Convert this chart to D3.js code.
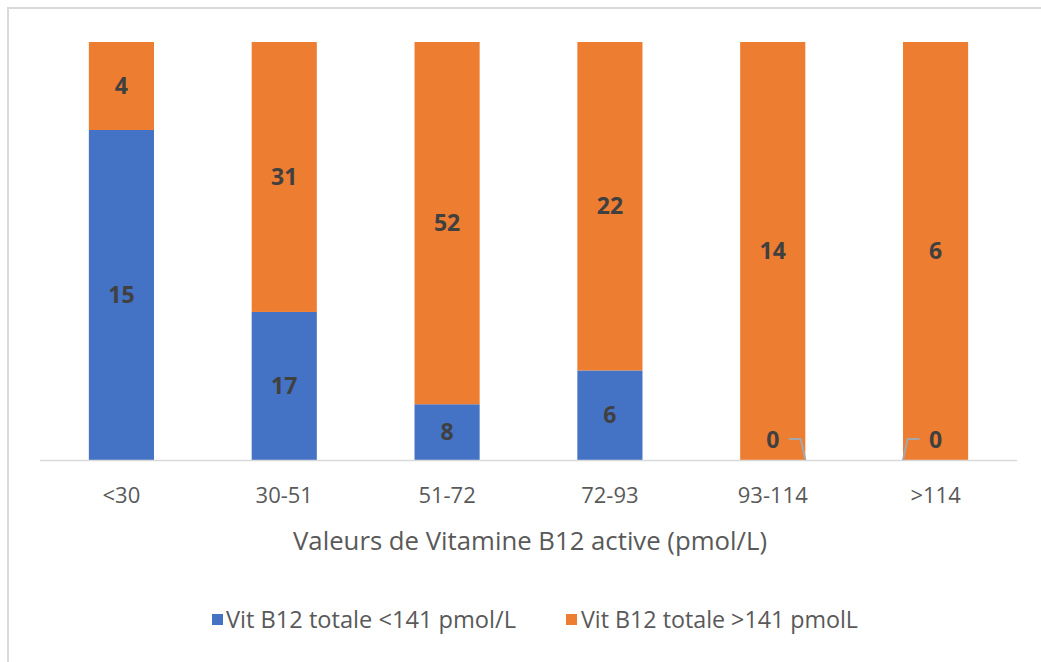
<!DOCTYPE html>
<html><head><meta charset="utf-8">
<script src="https://cdn.jsdelivr.net/npm/d3@7"></script>
<style>body{margin:0;background:#fff}svg{display:block}text{font-family:"Open Sans",sans-serif}</style>
</head><body><svg id="c" width="1041" height="662"></svg>
<script>
const categories = ["<30","30-51","51-72","72-93","93-114",">114"];
const seriesNames = ["Vit B12 totale <141 pmol/L","Vit B12 totale >141 pmolL"];
const lowValues = [15,17,8,6,0,0];
const highValues = [4,31,52,22,14,6];
const colors = ["#4472C4","#ED7D31"];
const axisTitle = "Valeurs de Vitamine B12 active (pmol/L)";

const svg = d3.select("#c");
svg.append("rect").attr("x",0).attr("y",0).attr("width",1041).attr("height",662).attr("fill","#fff");
// chart border (left & top)
svg.append("path").attr("d","M8,662 V8 H1041").attr("fill","none").attr("stroke","#d9d9d9").attr("stroke-width",2);

const x = d3.scaleBand().domain(categories).range([40,1017]).paddingInner(0.6).paddingOuter(0.3);
const y = d3.scaleLinear().domain([0,1]).range([460,42]);

const rows = categories.map((c,i)=>({cat:c, low:lowValues[i], high:highValues[i], tot:lowValues[i]+highValues[i]}));
const stack = d3.stack().keys(["low","high"]).value((d,k)=>d[k]/d.tot);
const layers = stack(rows);

layers.forEach((layer,li)=>{
  svg.append("g").selectAll("rect").data(layer).join("rect")
    .attr("x",d=>x(d.data.cat)).attr("width",x.bandwidth())
    .attr("y",d=>y(d[1])).attr("height",d=>y(d[0])-y(d[1]))
    .attr("fill",colors[li]);
});

// axis line
svg.append("line").attr("x1",40).attr("x2",1017).attr("y1",460.5).attr("y2",460.5).attr("stroke","#d9d9d9").attr("stroke-width",1.5);

// data labels
layers.forEach((layer,li)=>{
  layer.forEach((d,i)=>{
    const v = d.data[layer.key];
    const cx = x(d.data.cat)+x.bandwidth()/2;
    let cy = (y(d[0])+y(d[1]))/2;
    if (v===0) {
      cy = y(0)-20;
      const dir = d.data.cat==="93-114" ? 1 : -1;
      const edge = dir>0 ? x(d.data.cat)+x.bandwidth() : x(d.data.cat);
      svg.append("path")
        .attr("d",`M${cx+dir*16},${cy-1} H${cx+dir*28} L${edge},${y(0)}`)
        .attr("fill","none").attr("stroke","#a6a6a6").attr("stroke-width",2);
    }
    svg.append("text").attr("x",cx).attr("y",cy).attr("dy","0.36em")
      .attr("text-anchor","middle").attr("font-size",23).attr("font-weight","bold")
      .attr("fill","#404040").text(v);
  });
});

// tick labels
svg.append("g").selectAll("text").data(categories).join("text")
  .attr("x",d=>x(d)+x.bandwidth()/2).attr("y",495).attr("dy","0.36em")
  .attr("text-anchor","middle").attr("font-size",22).attr("fill","#595959").text(d=>d);

svg.append("text").attr("x",530).attr("y",541).attr("dy","0.36em").attr("text-anchor","middle")
  .attr("font-size",25).attr("fill","#595959").attr("textLength",474).attr("lengthAdjust","spacingAndGlyphs").text(axisTitle);

// legend
const leg = [{x:212, tx:226, w:290},{x:566, tx:581, w:277}];
leg.forEach((l,i)=>{
  svg.append("rect").attr("x",l.x).attr("y",614).attr("width",11).attr("height",11).attr("fill",colors[i]);
  svg.append("text").attr("x",l.tx).attr("y",620).attr("dy","0.36em").attr("font-size",23)
    .attr("fill","#595959").attr("textLength",l.w).attr("lengthAdjust","spacingAndGlyphs").text(seriesNames[i]);
});
</script></body></html>
